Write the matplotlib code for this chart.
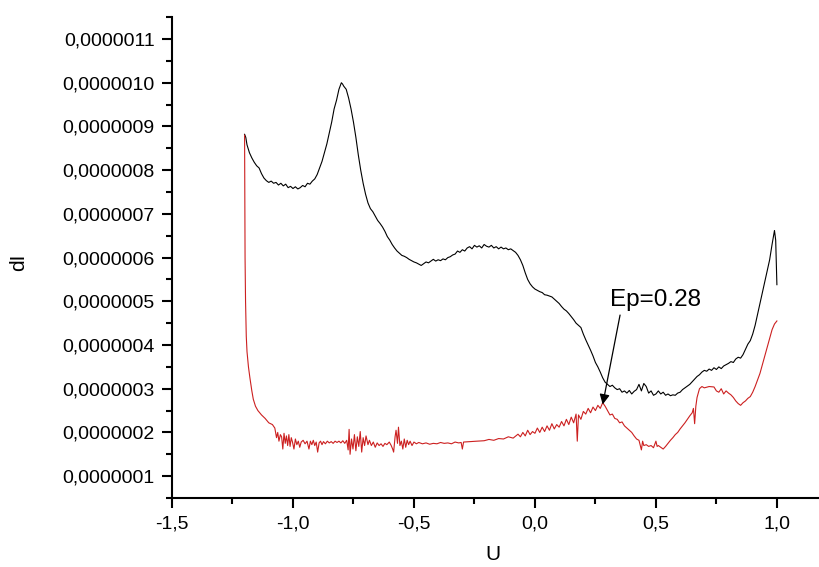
import numpy as np
import matplotlib
matplotlib.use("Agg")
from matplotlib import pyplot as plt
from matplotlib.ticker import FixedLocator, FuncFormatter

plt.rcParams['font.family'] = ['Liberation Sans', 'DejaVu Sans']

# (U, dI in units of 1e-7)
black_pts = [
    (-1.200, 8.82), (-1.195, 8.75), (-1.190, 8.58), (-1.180, 8.40), (-1.170, 8.28),
    (-1.160, 8.18), (-1.150, 8.10), (-1.140, 8.05), (-1.130, 7.92), (-1.120, 7.82),
    (-1.110, 7.76), (-1.100, 7.72), (-1.090, 7.75), (-1.080, 7.70), (-1.070, 7.72),
    (-1.060, 7.66), (-1.050, 7.70), (-1.040, 7.64), (-1.030, 7.68), (-1.020, 7.60),
    (-1.010, 7.63), (-1.000, 7.58), (-0.990, 7.62), (-0.980, 7.57), (-0.970, 7.60),
    (-0.960, 7.65), (-0.950, 7.62), (-0.940, 7.70), (-0.930, 7.68), (-0.920, 7.75),
    (-0.910, 7.80), (-0.900, 7.90), (-0.890, 8.05), (-0.880, 8.20), (-0.870, 8.40),
    (-0.860, 8.60), (-0.850, 8.85), (-0.840, 9.10), (-0.830, 9.40), (-0.820, 9.60),
    (-0.810, 9.85), (-0.800, 10.00), (-0.795, 9.97), (-0.790, 9.92), (-0.780, 9.85),
    (-0.770, 9.65), (-0.760, 9.40), (-0.750, 9.10), (-0.740, 8.75), (-0.730, 8.35),
    (-0.720, 8.00), (-0.710, 7.70), (-0.700, 7.45), (-0.690, 7.25), (-0.680, 7.12),
    (-0.670, 7.05), (-0.660, 6.95), (-0.650, 6.85), (-0.640, 6.78), (-0.630, 6.70),
    (-0.620, 6.60), (-0.610, 6.48), (-0.600, 6.40), (-0.590, 6.30), (-0.580, 6.22),
    (-0.570, 6.15), (-0.560, 6.10), (-0.550, 6.05), (-0.540, 6.03), (-0.530, 6.00),
    (-0.520, 5.96), (-0.510, 5.93), (-0.500, 5.90), (-0.490, 5.88), (-0.480, 5.85),
    (-0.470, 5.82), (-0.460, 5.86), (-0.450, 5.90), (-0.440, 5.88), (-0.430, 5.92),
    (-0.420, 5.96), (-0.410, 5.92), (-0.400, 5.95), (-0.390, 5.93), (-0.380, 5.97),
    (-0.370, 5.95), (-0.360, 6.00), (-0.350, 6.02), (-0.340, 6.06), (-0.330, 6.08),
    (-0.320, 6.15), (-0.310, 6.12), (-0.300, 6.18), (-0.290, 6.15), (-0.280, 6.22),
    (-0.270, 6.25), (-0.260, 6.20), (-0.250, 6.28), (-0.240, 6.24), (-0.230, 6.27),
    (-0.220, 6.22), (-0.210, 6.30), (-0.200, 6.26), (-0.190, 6.24), (-0.180, 6.28),
    (-0.170, 6.22), (-0.160, 6.25), (-0.150, 6.20), (-0.140, 6.24), (-0.130, 6.20),
    (-0.120, 6.22), (-0.110, 6.18), (-0.100, 6.20), (-0.090, 6.16), (-0.080, 6.12),
    (-0.070, 6.05), (-0.060, 5.95), (-0.050, 5.82), (-0.040, 5.65), (-0.030, 5.50),
    (-0.020, 5.40), (-0.010, 5.33), (0.000, 5.28), (0.010, 5.25), (0.020, 5.22),
    (0.030, 5.20), (0.040, 5.15), (0.050, 5.14), (0.060, 5.12), (0.070, 5.10),
    (0.080, 5.05), (0.090, 5.00), (0.100, 4.95), (0.110, 4.88), (0.120, 4.82),
    (0.130, 4.78), (0.140, 4.72), (0.150, 4.65), (0.160, 4.58), (0.170, 4.50),
    (0.180, 4.45), (0.190, 4.40), (0.200, 4.25), (0.210, 4.12), (0.220, 4.00),
    (0.230, 3.88), (0.240, 3.75), (0.250, 3.60), (0.260, 3.50), (0.270, 3.38),
    (0.280, 3.25), (0.290, 3.15), (0.300, 3.10), (0.310, 3.05), (0.320, 3.08),
    (0.330, 3.02), (0.340, 2.98), (0.350, 3.00), (0.360, 2.92), (0.370, 2.95),
    (0.380, 2.90), (0.390, 2.96), (0.400, 2.88), (0.410, 2.94), (0.420, 2.98),
    (0.430, 3.10), (0.440, 2.95), (0.450, 3.12), (0.460, 3.05), (0.470, 2.90),
    (0.480, 2.95), (0.490, 2.85), (0.500, 2.88), (0.510, 2.95), (0.520, 2.88),
    (0.530, 2.92), (0.540, 2.85), (0.550, 2.88), (0.560, 2.84), (0.570, 2.86),
    (0.580, 2.85), (0.590, 2.90), (0.600, 2.92), (0.610, 2.98), (0.620, 3.02),
    (0.630, 3.06), (0.640, 3.10), (0.650, 3.16), (0.660, 3.22), (0.670, 3.28),
    (0.680, 3.32), (0.690, 3.38), (0.700, 3.42), (0.710, 3.40), (0.720, 3.45),
    (0.730, 3.42), (0.740, 3.48), (0.750, 3.44), (0.760, 3.50), (0.770, 3.46),
    (0.780, 3.52), (0.790, 3.55), (0.800, 3.58), (0.810, 3.62), (0.820, 3.60),
    (0.830, 3.68), (0.840, 3.72), (0.850, 3.70), (0.860, 3.78), (0.870, 3.90),
    (0.880, 4.02), (0.890, 4.10), (0.900, 4.25), (0.910, 4.45), (0.920, 4.70),
    (0.930, 4.95), (0.940, 5.20), (0.950, 5.45), (0.960, 5.70), (0.970, 5.95),
    (0.980, 6.30), (0.990, 6.62), (0.995, 6.40), (1.000, 5.38),
]

red_pts = [
    (-1.200, 8.80), (-1.199, 7.20), (-1.198, 6.00), (-1.196, 5.00), (-1.193, 4.20),
    (-1.190, 3.85), (-1.184, 3.50), (-1.178, 3.25), (-1.170, 2.95), (-1.164, 2.76),
    (-1.155, 2.60), (-1.145, 2.50), (-1.130, 2.40), (-1.115, 2.32), (-1.100, 2.22),
    (-1.085, 2.18), (-1.075, 2.10), (-1.068, 1.88), (-1.063, 2.00), (-1.058, 1.80),
    (-1.052, 1.95), (-1.047, 1.90), (-1.042, 1.62), (-1.037, 1.98), (-1.032, 1.75),
    (-1.027, 1.92), (-1.022, 1.70), (-1.017, 1.95), (-1.012, 1.68), (-1.007, 1.88),
    (-1.002, 1.78), (-0.996, 1.62), (-0.990, 1.85), (-0.984, 1.72), (-0.978, 1.80),
    (-0.972, 1.66), (-0.966, 1.78), (-0.958, 1.82), (-0.950, 1.74), (-0.942, 1.80),
    (-0.934, 1.62), (-0.928, 1.80), (-0.922, 1.72), (-0.916, 1.82), (-0.910, 1.70),
    (-0.904, 1.78), (-0.898, 1.55), (-0.892, 1.76), (-0.886, 1.80), (-0.880, 1.72),
    (-0.874, 1.79), (-0.866, 1.74), (-0.858, 1.80), (-0.850, 1.76), (-0.842, 1.79),
    (-0.834, 1.75), (-0.826, 1.80), (-0.818, 1.77), (-0.810, 1.80), (-0.802, 1.76),
    (-0.794, 1.81), (-0.786, 1.75), (-0.778, 1.82), (-0.772, 1.60), (-0.768, 2.07),
    (-0.764, 1.50), (-0.758, 1.85), (-0.752, 1.62), (-0.746, 1.95), (-0.740, 1.58),
    (-0.734, 1.90), (-0.728, 1.68), (-0.722, 2.02), (-0.716, 1.55), (-0.710, 1.88),
    (-0.704, 1.70), (-0.698, 1.92), (-0.690, 1.72), (-0.684, 1.82), (-0.676, 1.70),
    (-0.668, 1.78), (-0.660, 1.66), (-0.652, 1.76), (-0.644, 1.70), (-0.636, 1.74),
    (-0.628, 1.68), (-0.620, 1.75), (-0.612, 1.72), (-0.602, 1.78), (-0.594, 1.70),
    (-0.588, 1.62), (-0.584, 1.55), (-0.578, 1.90), (-0.574, 2.05), (-0.568, 1.75),
    (-0.564, 2.12), (-0.558, 1.70), (-0.552, 1.80), (-0.546, 1.62), (-0.540, 1.85),
    (-0.534, 1.66), (-0.528, 1.82), (-0.522, 1.72), (-0.516, 1.80), (-0.508, 1.70),
    (-0.500, 1.78), (-0.490, 1.74), (-0.480, 1.77), (-0.465, 1.74), (-0.450, 1.76),
    (-0.435, 1.73), (-0.420, 1.75), (-0.405, 1.74), (-0.390, 1.77), (-0.375, 1.75),
    (-0.360, 1.76), (-0.345, 1.74), (-0.330, 1.78), (-0.315, 1.76), (-0.305, 1.77),
    (-0.300, 1.62), (-0.295, 1.78), (-0.270, 1.79), (-0.240, 1.80), (-0.210, 1.81),
    (-0.190, 1.84), (-0.170, 1.82), (-0.150, 1.86), (-0.130, 1.85), (-0.110, 1.90),
    (-0.090, 1.87), (-0.070, 1.96), (-0.060, 1.90), (-0.050, 2.00), (-0.040, 1.92),
    (-0.030, 2.05), (-0.020, 1.95), (-0.010, 2.02), (0.000, 1.98), (0.010, 2.10),
    (0.020, 2.00), (0.030, 2.12), (0.040, 2.02), (0.050, 2.15), (0.060, 2.05),
    (0.070, 2.20), (0.080, 2.08), (0.090, 2.18), (0.100, 2.12), (0.110, 2.25),
    (0.120, 2.15), (0.130, 2.30), (0.140, 2.18), (0.150, 2.35), (0.160, 2.22),
    (0.170, 2.42), (0.175, 1.80), (0.180, 2.40), (0.190, 2.30), (0.200, 2.48),
    (0.210, 2.42), (0.220, 2.55), (0.230, 2.45), (0.240, 2.58), (0.250, 2.50),
    (0.260, 2.62), (0.270, 2.55), (0.280, 2.68), (0.290, 2.60), (0.300, 2.50),
    (0.310, 2.40), (0.320, 2.42), (0.330, 2.32), (0.340, 2.30), (0.350, 2.22),
    (0.360, 2.24), (0.370, 2.15), (0.380, 2.10), (0.390, 2.05), (0.400, 2.00),
    (0.410, 1.92), (0.420, 1.85), (0.430, 1.82), (0.440, 1.60), (0.445, 1.80),
    (0.450, 1.70), (0.460, 1.72), (0.470, 1.68), (0.480, 1.70), (0.490, 1.65),
    (0.500, 1.80), (0.505, 1.68), (0.510, 1.70), (0.520, 1.66), (0.530, 1.62),
    (0.540, 1.68), (0.550, 1.75), (0.560, 1.82), (0.570, 1.88), (0.580, 1.95),
    (0.590, 2.00), (0.600, 2.08), (0.610, 2.15), (0.620, 2.22), (0.630, 2.30),
    (0.640, 2.38), (0.650, 2.45), (0.655, 2.55), (0.660, 2.20), (0.665, 2.60),
    (0.670, 2.80), (0.680, 3.00), (0.690, 3.05), (0.700, 3.02), (0.720, 3.05),
    (0.740, 3.04), (0.750, 2.95), (0.760, 2.92), (0.770, 3.00), (0.780, 2.88),
    (0.790, 2.95), (0.800, 2.90), (0.810, 2.86), (0.820, 2.80), (0.830, 2.72),
    (0.840, 2.66), (0.850, 2.62), (0.860, 2.68), (0.870, 2.72), (0.880, 2.78),
    (0.890, 2.82), (0.900, 2.92), (0.910, 3.05), (0.920, 3.20), (0.930, 3.35),
    (0.940, 3.55), (0.950, 3.75), (0.960, 3.95), (0.970, 4.15), (0.980, 4.35),
    (0.990, 4.48), (1.000, 4.55),
]

x_major = [-1.5, -1.0, -0.5, 0.0, 0.5, 1.0]
x_minor = [-1.25, -0.75, -0.25, 0.25, 0.75]
y_major = [1e-7, 2e-7, 3e-7, 4e-7, 5e-7, 6e-7, 7e-7, 8e-7, 9e-7, 10e-7, 11e-7]
y_minor = [0.5e-7, 1.5e-7, 2.5e-7, 3.5e-7, 4.5e-7, 5.5e-7, 6.5e-7,
           7.5e-7, 8.5e-7, 9.5e-7, 10.5e-7, 11.5e-7]
peak_u = 0.28
peak_di = 2.64e-7


def xy(pts):
    a = np.array(pts)
    return a[:, 0], a[:, 1] * 1e-7


fig = plt.figure(figsize=(8.19, 5.67), dpi=100)
ax = fig.add_axes([0.210, 0.1217, 0.790, 0.848])

bx, by = xy(black_pts)
rx, ry = xy(red_pts)
ax.plot(bx, by, color='black', lw=0.8)
ax.plot(rx, ry, color='#cc2020', lw=0.8)

ax.set_xlim(-1.5, 1.174)
ax.set_ylim(0.5e-7, 11.5e-7)

for s in ['top', 'right']:
    ax.spines[s].set_visible(False)
for s in ['left', 'bottom']:
    ax.spines[s].set_linewidth(1.5)

ax.xaxis.set_major_locator(FixedLocator(x_major))
ax.xaxis.set_minor_locator(FixedLocator(x_minor))
ax.yaxis.set_major_locator(FixedLocator(y_major))
ax.yaxis.set_minor_locator(FixedLocator(y_minor))
ax.xaxis.set_major_formatter(FuncFormatter(lambda v, p: f"{v:.1f}".replace('.', ',').replace('-0,0', '0,0')))
ax.yaxis.set_major_formatter(FuncFormatter(lambda v, p: f"{v:.7f}".replace('.', ',')))
ax.tick_params(which='major', direction='out', length=7.5, width=1.5, labelsize=14, pad=5)
ax.tick_params(which='minor', direction='out', length=4.5, width=1.5)

ax.set_xlabel('U', fontsize=15)
ax.set_ylabel('dI', fontsize=15)
ax.xaxis.set_label_coords(0.496, -0.098)
ax.yaxis.set_label_coords(-0.222, 0.49)

ax.annotate('Ep=0.28', xy=(peak_u, peak_di), xytext=(0.31, 4.78e-7),
            fontsize=17.5, ha='left', va='bottom',
            arrowprops=dict(arrowstyle='-|>', color='black', lw=0.9,
                            mutation_scale=15, shrinkA=1, shrinkB=0,
                            relpos=(0.12, 0.0)))

fig.savefig('out.png', dpi=100)
